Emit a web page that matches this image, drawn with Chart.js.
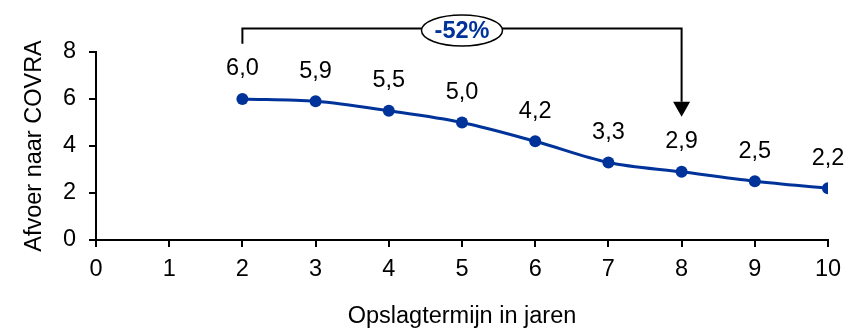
<!DOCTYPE html>
<html>
<head>
<meta charset="utf-8">
<script src="https://cdn.jsdelivr.net/npm/chart.js@4/dist/chart.umd.min.js"></script>
<style>
  html, body { margin: 0; padding: 0; background: #fff; }
  canvas { display: block; }
</style>
</head>
<body>
<canvas id="c" width="847" height="331"></canvas>
<script>
// Storage period (years) and waste transferred to COVRA
const years = [2, 3, 4, 5, 6, 7, 8, 9, 10];
const afvoer = [6.0, 5.9, 5.5, 5.0, 4.2, 3.3, 2.9, 2.5, 2.2];
const xTicks = [0, 1, 2, 3, 4, 5, 6, 7, 8, 9, 10];
const yTicks = [0, 2, 4, 6, 8];

// Reduction bracket: from year 2 to year 8
const bracketFrom = 2;
const bracketTo = 8;
const bracketLabel = '-52%';

const BLUE = '#003399';
const FONT = '"Liberation Sans", Arial, sans-serif';
const FS = 23.5;

const fmt = v => v.toFixed(1).replace('.', ',');

// Value labels above each point
const valueLabels = {
  id: 'valueLabels',
  afterDatasetsDraw(chart) {
    const ctx = chart.ctx;
    const meta = chart.getDatasetMeta(0);
    ctx.save();
    ctx.font = FS + 'px ' + FONT;
    ctx.fillStyle = '#000';
    ctx.textAlign = 'center';
    ctx.textBaseline = 'middle';
    meta.data.forEach((pt, i) => {
      ctx.fillText(fmt(afvoer[i]), pt.x, pt.y - 30);
    });
    ctx.restore();
  }
};

// Bracket with arrow and percentage bubble
const reductionBracket = {
  id: 'reductionBracket',
  afterDraw(chart) {
    const ctx = chart.ctx;
    const xs = chart.scales.x, ys = chart.scales.y;
    const x1 = xs.getPixelForValue(bracketFrom);
    const x2 = xs.getPixelForValue(bracketTo);
    const top = ys.getPixelForValue(9);
    const leftEnd = ys.getPixelForValue(8.35);
    const tip = ys.getPixelForValue(5.25);
    const headLen = 15, headHalf = 8.5;
    ctx.save();
    ctx.strokeStyle = '#000';
    ctx.lineWidth = 2;
    ctx.beginPath();
    ctx.moveTo(x1, leftEnd);
    ctx.lineTo(x1, top);
    ctx.lineTo(x2, top);
    ctx.lineTo(x2, tip - headLen);
    ctx.stroke();
    ctx.fillStyle = '#000';
    ctx.beginPath();
    ctx.moveTo(x2 - headHalf, tip - headLen);
    ctx.lineTo(x2 + headHalf, tip - headLen);
    ctx.lineTo(x2, tip);
    ctx.closePath();
    ctx.fill();

    const cx = xs.getPixelForValue((bracketFrom + bracketTo) / 2);
    const cy = top + 2;
    ctx.beginPath();
    ctx.ellipse(cx, cy, 40.5, 15.5, 0, 0, Math.PI * 2);
    ctx.fillStyle = '#fff';
    ctx.fill();
    ctx.lineWidth = 1.5;
    ctx.stroke();
    ctx.fillStyle = BLUE;
    ctx.font = 'bold ' + FS + 'px ' + FONT;
    ctx.textAlign = 'center';
    ctx.textBaseline = 'middle';
    ctx.fillText(bracketLabel, cx, cy + 1);
    ctx.restore();
  }
};

new Chart(document.getElementById('c'), {
  type: 'line',
  data: {
    datasets: [{
      data: years.map((y, i) => ({ x: y, y: afvoer[i] })),
      borderColor: BLUE,
      backgroundColor: BLUE,
      borderWidth: 3,
      pointRadius: 6,
      pointBackgroundColor: BLUE,
      pointBorderWidth: 0,
      cubicInterpolationMode: 'monotone',
      fill: false
    }]
  },
  options: {
    responsive: false,
    animation: false,
    devicePixelRatio: 1,
    layout: { padding: { top: 52, right: 19, left: 0, bottom: 0 } },
    plugins: { legend: { display: false }, tooltip: { enabled: false } },
    scales: {
      x: {
        type: 'linear',
        min: 0, max: 10,
        afterBuildTicks: s => { s.ticks = xTicks.map(v => ({ value: v })); },
        afterFit: s => { s.height = 91; s.paddingLeft = 0; s.paddingRight = 0; },
        border: { display: true, color: '#000', width: 2 },
        grid: { drawOnChartArea: false, drawTicks: true, tickLength: 7, color: '#000', lineWidth: 2 },
        ticks: { color: '#000', font: { family: FONT, size: FS }, padding: 8, maxRotation: 0,
                 callback: v => String(v) },
        title: { display: true, text: 'Opslagtermijn in jaren', color: '#000',
                 font: { family: FONT, size: FS }, padding: { top: 0, bottom: 0 } }
      },
      y: {
        min: 0, max: 8,
        afterBuildTicks: s => { s.ticks = yTicks.map(v => ({ value: v })); },
        afterFit: s => { s.width = 96; s.paddingTop = 0; s.paddingBottom = 0; },
        border: { display: true, color: '#000', width: 2 },
        grid: { drawOnChartArea: false, drawTicks: true, tickLength: 7, color: '#000', lineWidth: 2 },
        ticks: { color: '#000', font: { family: FONT, size: FS }, padding: 13,
                 callback: v => String(v) },
        title: { display: true, text: 'Afvoer naar COVRA', color: '#000',
                 font: { family: FONT, size: FS }, padding: { top: 20, bottom: 0 } }
      }
    }
  },
  plugins: [valueLabels, reductionBracket]
});
</script>
</body>
</html>
